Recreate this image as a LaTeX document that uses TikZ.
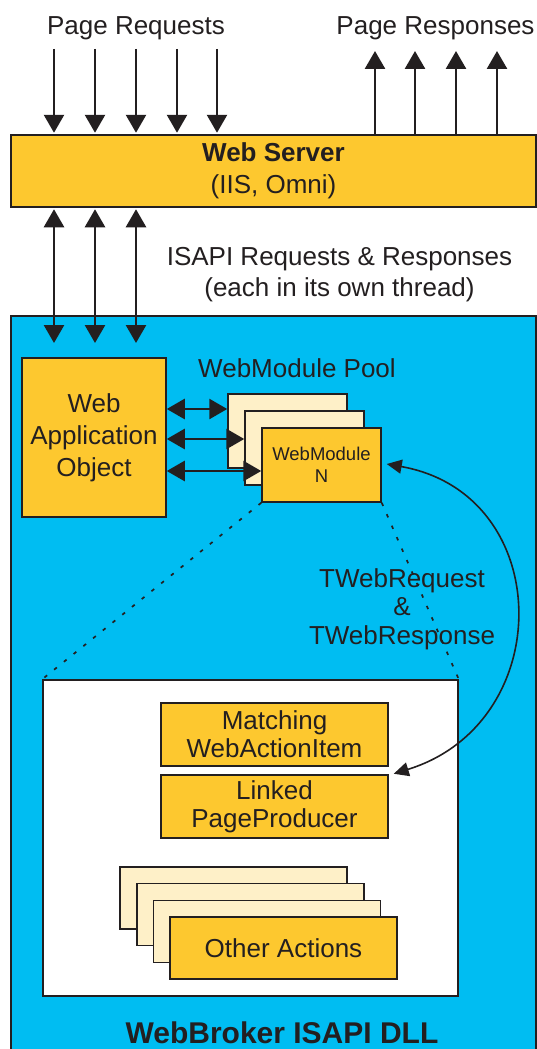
\documentclass[tikz,border=0pt]{standalone}
\usepackage{fontspec}
\setmainfont{Liberation Sans}
\usetikzlibrary{arrows.meta}
\definecolor{wbyellow}{HTML}{FDC82F}
\definecolor{wbcream}{HTML}{FEF0C8}
\definecolor{wbblue}{HTML}{00BDF2}
\definecolor{wbink}{HTML}{231F20}
\begin{document}
\begin{tikzpicture}[x=1pt,y=-1pt,
  wbbox/.style={draw=wbink, line width=1.5pt, fill=wbyellow, inner sep=0pt, text=wbink, align=center},
  wbback/.style={wbbox, fill=wbcream},
  wbtxt/.style={text=wbink, inner sep=0pt, align=center},
  wbarr/.style={draw=wbink, line width=2.7pt, -{Triangle[length=18pt,width=20pt]}},
  wbdbl/.style={draw=wbink, line width=2.7pt, {Triangle[length=18pt,width=20pt]}-{Triangle[length=18pt,width=20pt]}},
  wbcurve/.style={draw=wbink, line width=1.6pt, {Triangle[length=15pt,width=14pt]}-{Triangle[length=15pt,width=14pt]}},
  wbdots/.style={draw=wbink, line width=1.7pt, dash pattern=on 3.5pt off 9pt},
  fmain/.style={font=\fontsize{26}{28.5}\selectfont},
]
\useasboundingbox (0,0) rectangle (537,1049);
\fill[white] (0,0) rectangle (537,1049);

% blue container (WebBroker ISAPI DLL)
\fill[wbblue] (11,316) rectangle (536,1049);
\draw[wbink, line width=1.5pt] (11,1049) -- (11,316) -- (536,316) -- (536,1049);

% web server
\node[wbbox, minimum width=525pt, minimum height=72pt, font=\fontsize{26}{32}\selectfont] (ws) at (273.5,171) {\textbf{Web Server}\\(IIS, Omni)};

% texts
\node[wbtxt, fmain, anchor=base] (preq) at (136,35) {Page Requests};
\node[wbtxt, fmain, anchor=base] (presp) at (435.5,35) {Page Responses};
\node[wbtxt, font=\fontsize{26}{31}\selectfont] (isapi) at (339.5,275) {ISAPI Requests \& Responses\\(each in its own thread)};
\node[wbtxt, fmain, anchor=base] (pool) at (297,377) {WebModule Pool};
\node[wbtxt, fmain] (tweb) at (402,609) {TWebRequest\\\&\\TWebResponse};
\node[wbtxt, font=\fontsize{30}{34}\selectfont\bfseries, anchor=base] (dll) at (282,1043) {WebBroker ISAPI DLL};

% inner white box
\node[draw=wbink, line width=1.5pt, fill=white, inner sep=0pt, minimum width=415pt, minimum height=316pt] (inner) at (250.5,838) {};

% web application object
\node[wbbox, minimum width=144pt, minimum height=159pt, font=\fontsize{26}{32}\selectfont] (app) at (94,437.5) {Web\\Application\\Object};

% webmodule pool
\node[wbback, minimum width=119pt, minimum height=74pt] (m1) at (287.5,431) {};
\node[wbback, minimum width=119pt, minimum height=74pt] (m2) at (304.5,448) {};
\node[wbbox, minimum width=119pt, minimum height=74pt, font=\fontsize{18.5}{22}\selectfont] (wmN) at (321.5,465) {WebModule\\N};

% dotted zoom lines
\draw[wbdots] (wmN.south west) -- (inner.north west);
\draw[wbdots] (wmN.south east) -- (inner.north east);

% inner items
\node[wbbox, minimum width=227pt, minimum height=63pt, font=\fontsize{26}{28}\selectfont] (match) at (274.5,734.5) {Matching\\WebActionItem};
\node[wbbox, minimum width=227pt, minimum height=63pt, font=\fontsize{26}{28}\selectfont] (linked) at (274.5,806.5) {Linked\\PageProducer};
\node[wbback, minimum width=227pt, minimum height=62pt] (o1) at (233.5,898) {};
\node[wbback, minimum width=227pt, minimum height=62pt] (o2) at (250.5,914.7) {};
\node[wbback, minimum width=227pt, minimum height=62pt] (o3) at (267,931.3) {};
\node[wbbox, minimum width=227pt, minimum height=62pt, fmain] (other) at (283.5,948) {Other Actions};

% page request arrows
\foreach \xx [count=\i] in {54,95,136,177,217} {
  \coordinate (pr\i) at (\xx,49);
  \draw[wbarr, shorten >=1.5pt] (pr\i) -- (pr\i |- ws.north);
}
% page response arrows
\foreach \xx [count=\i] in {375,415,456,497} {
  \coordinate (rs\i) at (\xx,51);
  \draw[wbarr] (rs\i |- ws.north) -- (rs\i);
}
% ISAPI arrows
\foreach \xx [count=\i] in {54,95,136} {
  \coordinate (is\i) at (\xx,343);
  \draw[wbdbl, shorten <=1.5pt] (is\i |- ws.south) -- (is\i);
}

% app <-> modules
\coordinate (h1) at (0,409);
\coordinate (h2) at (0,439);
\coordinate (h3) at (0,471);
\draw[wbdbl] (app.east |- h1) -- (m1.west |- h1);
\draw[wbdbl] (app.east |- h2) -- (m2.west |- h2);
\draw[wbdbl] (app.east |- h3) -- (wmN.west |- h3);

% TWebRequest / TWebResponse curve
\coordinate (c1) at ([xshift=5pt,yshift=1pt]wmN.east);
\coordinate (c2) at ([xshift=5pt,yshift=-7pt]match.south east);
\draw[wbcurve] (c1) .. controls (556,494) and (558,723) .. (c2);
\end{tikzpicture}
\end{document}
